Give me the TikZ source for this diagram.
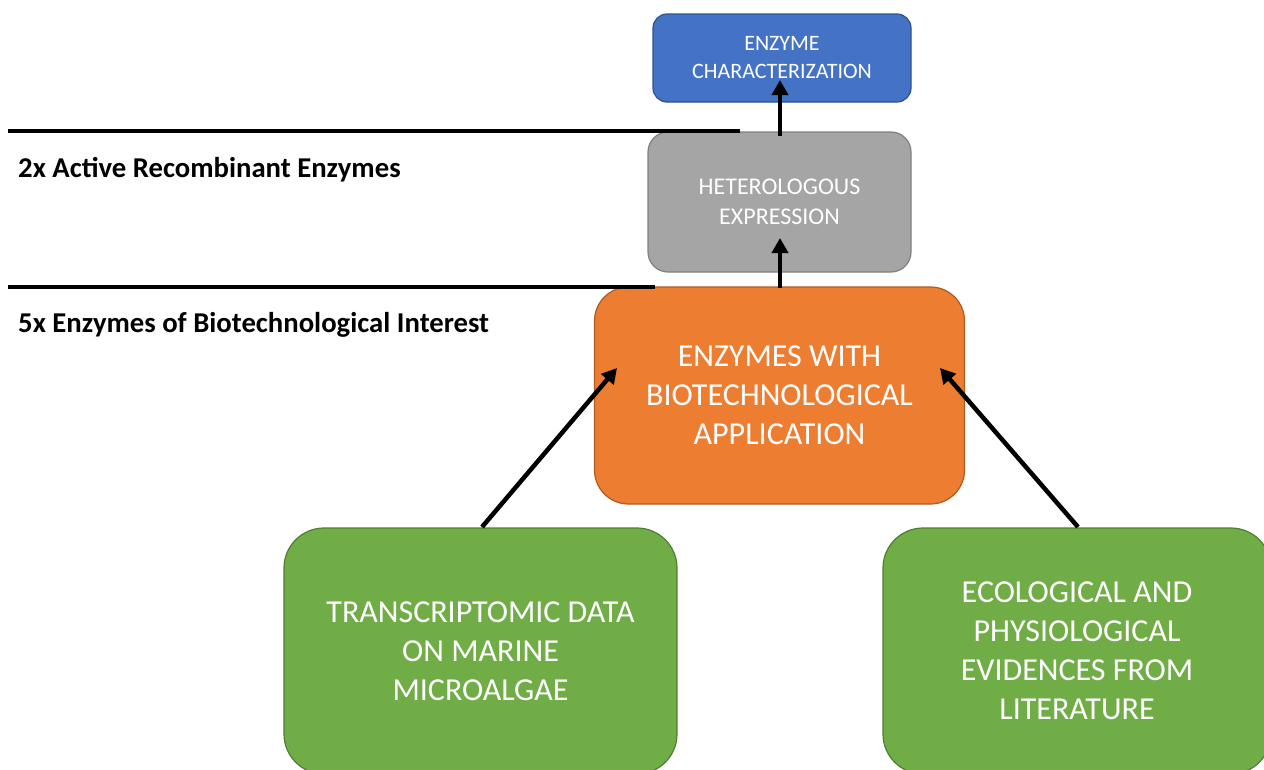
\documentclass[tikz,border=0pt]{standalone}
\usepackage{fontspec}
\setmainfont{Carlito}
\usetikzlibrary{arrows.meta}
\definecolor{cblue}{HTML}{4472C4}
\definecolor{cblueb}{HTML}{2F528F}
\definecolor{cgray}{HTML}{A5A5A5}
\definecolor{cgrayb}{HTML}{7F7F7F}
\definecolor{corange}{HTML}{ED7D31}
\definecolor{coranb}{HTML}{AE5A21}
\definecolor{cgreen}{HTML}{70AD47}
\definecolor{cgreenb}{HTML}{507E32}
\tikzset{
  box/.style={draw, line width=1.2pt, text=white, align=center, inner sep=0pt},
  arr/.style={line width=4.5pt, -{Triangle[length=15pt,width=16pt]}},
  rule/.style={line width=4pt},
  lab/.style={anchor=base west, inner sep=0pt, font=\bfseries\fontsize{28.7}{32}\selectfont}
}
\begin{document}
\begin{tikzpicture}[x=1pt,y=-1pt]
\useasboundingbox (0,0) rectangle (1264,769);
\begin{scope}
\clip (0,0) rectangle (1264,769);
\node[box, fill=cblue, draw=cblueb, rounded corners=14pt, minimum width=258pt, minimum height=88pt,
  font=\fontsize{22}{28}\selectfont] (blue) at (782,58) {ENZYME\\CHARACTERIZATION};
\node[box, fill=cgray, draw=cgrayb, rounded corners=20pt, minimum width=263pt, minimum height=140pt,
  font=\fontsize{24}{30}\selectfont] (gray) at (779.5,202) {HETEROLOGOUS\\EXPRESSION};
\node[box, fill=corange, draw=coranb, rounded corners=34pt, minimum width=370pt, minimum height=217pt,
  font=\fontsize{32}{39}\selectfont] (orange) at (779.5,395.5) {ENZYMES WITH\\BIOTECHNOLOGICAL\\APPLICATION};
\node[box, fill=cgreen, draw=cgreenb, rounded corners=40pt, minimum width=393pt, minimum height=246pt,
  font=\fontsize{32}{39}\selectfont] (gl) at (480.5,651) {TRANSCRIPTOMIC DATA\\ON MARINE\\MICROALGAE};
\node[box, fill=cgreen, draw=cgreenb, rounded corners=40pt, minimum width=388pt, minimum height=246pt,
  font=\fontsize{32}{39}\selectfont] (gr) at (1077,651) {ECOLOGICAL AND\\PHYSIOLOGICAL\\EVIDENCES FROM\\LITERATURE};
\end{scope}
\coordinate (r1a) at (8,131);
\coordinate (r1b) at (740,131);
\coordinate (r2a) at (8,287);
\coordinate (r2b) at (655,287);
\draw[rule] (r1a) -- (r1b);
\draw[rule] (r2a) -- (r2b);
\node[lab] (l1) at (18,177) {2x Active Recombinant Enzymes};
\node[lab] (l2) at (18,332) {5x Enzymes of Biotechnological Interest};
\coordinate (t1) at (780,80);
\coordinate (t2) at (780,238);
\coordinate (t3) at (617,368);
\coordinate (t4) at (940,368);
\coordinate (s1) at (780,136);
\coordinate (s2) at (780,288);
\coordinate (s3) at (482,527);
\coordinate (s4) at (1078,527);
\draw[arr] (s1) -- (t1);
\draw[arr] (s2) -- (t2);
\draw[arr] (s3) -- (t3);
\draw[arr] (s4) -- (t4);
\end{tikzpicture}
\end{document}
